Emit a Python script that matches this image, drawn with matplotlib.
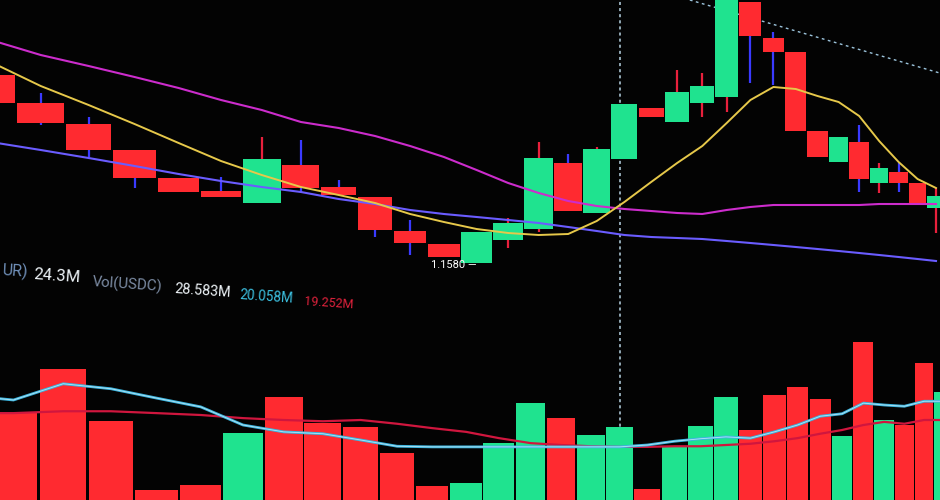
import numpy as np
import matplotlib
matplotlib.use("Agg")
import matplotlib.pyplot as plt

plt.rcParams["font.family"] = ["Roboto", "DejaVu Sans"]

# price candles (index 0..31, left to right)
opens = [1.1768, 1.1740, 1.1719, 1.1693, 1.1665, 1.1652, 1.1640, 1.1678,
         1.1656, 1.1646, 1.1612, 1.1599, 1.1580, 1.1603, 1.1614, 1.1680,
         1.1630, 1.1684, 1.1735, 1.1721, 1.1740, 1.1746, 1.1841, 1.1805,
         1.1791, 1.1712, 1.1681, 1.1701, 1.1660, 1.1671, 1.1660, 1.1635]
closes = [1.1740, 1.1720, 1.1693, 1.1665, 1.1651, 1.1646, 1.1684, 1.1655,
          1.1648, 1.1613, 1.1600, 1.1586, 1.1611, 1.1620, 1.1685, 1.1632,
          1.1694, 1.1739, 1.1726, 1.1751, 1.1757, 1.1863, 1.1807, 1.1791,
          1.1712, 1.1686, 1.1706, 1.1664, 1.1675, 1.1660, 1.1639, 1.1647]
highs = [1.1771, 1.1750, 1.1726, 1.1693, 1.1665, 1.1666, 1.1706, 1.1703,
         1.1663, 1.1646, 1.1623, 1.1599, 1.1611, 1.1625, 1.1701, 1.1689,
         1.1696, 1.1739, 1.1735, 1.1773, 1.1770, 1.1863, 1.1841, 1.1811,
         1.1791, 1.1712, 1.1706, 1.1718, 1.1680, 1.1680, 1.1660, 1.1655]
lows = [1.1737, 1.1718, 1.1686, 1.1655, 1.1651, 1.1646, 1.1640, 1.1650,
        1.1648, 1.1606, 1.1588, 1.1586, 1.1580, 1.1595, 1.1611, 1.1632,
        1.1630, 1.1684, 1.1726, 1.1721, 1.1726, 1.1731, 1.1760, 1.1758,
        1.1712, 1.1686, 1.1681, 1.1651, 1.1650, 1.1651, 1.1639, 1.1610]

ma_fast = [1.1781, 1.1757, 1.1738, 1.1719, 1.1700, 1.1682, 1.1668, 1.1656,
           1.1648, 1.1640, 1.1629, 1.1621, 1.1614, 1.1610, 1.1608, 1.1609,
           1.1622, 1.1641, 1.1661, 1.1680, 1.1697, 1.1720, 1.1743, 1.1756,
           1.1754, 1.1747, 1.1741, 1.1727, 1.1702, 1.1681, 1.1664, 1.1655]
ma_mid = [1.1803, 1.1788, 1.1777, 1.1766, 1.1755, 1.1743, 1.1733, 1.1721,
          1.1715, 1.1707, 1.1697, 1.1686, 1.1673, 1.1660, 1.1650, 1.1642,
          1.1637, 1.1634, 1.1632, 1.1630, 1.1629, 1.1633, 1.1636, 1.1638,
          1.1638, 1.1638, 1.1638, 1.1638, 1.1639, 1.1639, 1.1639, 1.1639]
ma_slow = [1.1701, 1.1693, 1.1685, 1.1677, 1.1669, 1.1662, 1.1656, 1.1651,
           1.1644, 1.1639, 1.1633, 1.1629, 1.1626, 1.1623, 1.1620, 1.1616,
           1.1612, 1.1608, 1.1606, 1.1605, 1.1604, 1.1602, 1.1600, 1.1598,
           1.1596, 1.1594, 1.1592, 1.1590, 1.1588, 1.1586, 1.1584, 1.1582]

# volume (M) and its two moving averages
volumes = [16.0, 17.1, 24.2, 15.8, 4.8, 5.6, 13.9, 19.7, 15.5, 14.9, 10.7,
           5.4, 5.9, 12.3, 18.7, 16.3, 13.6, 14.9, 5.0, 11.8, 15.0, 19.7,
           14.4, 20.0, 21.3, 19.4, 13.4, 28.5, 16.0, 15.2, 25.1, 20.5]
vol_ma_fast = [20.0, 19.2, 21.8, 21.0, 19.5, 18.1, 15.2, 14.1, 13.8, 12.8,
               11.8, 11.7, 11.7, 11.7, 11.7, 11.7, 11.7, 11.7, 12.0, 12.6,
               13.0, 13.3, 13.1, 14.1, 15.2, 16.6, 17.0, 18.7, 18.4, 18.2,
               19.0, 19.0]
vol_ma_slow = [17.1, 17.1, 17.4, 17.4, 17.1, 16.8, 16.3, 16.0, 15.8, 16.0,
               15.4, 14.7, 14.1, 13.1, 12.3, 12.0, 11.8, 11.7, 11.7, 11.8,
               11.8, 12.0, 12.2, 12.6, 13.1, 13.8, 14.4, 15.2, 15.7, 15.4,
               16.0, 16.0]

cursor_index = 17.5
price_line_x = [20.0, 31.7]
price_line_y = [1.1843, 1.1770]
low_label = "1.1580 \u2014"

legend_labels = ["UR)", "24.3M", "Vol(USDC)", "28.583M", "20.058M", "19.252M"]

RED = "#ff2a30"
GREEN = "#1fe38f"
BG = "#030303"

# the screen is photographed at an angle: candles shrink to the right
PERSP = 0.022


def fwd(u):
    u = np.asarray(u, dtype=float)
    with np.errstate(divide="ignore", invalid="ignore"):
        return u / (1 + PERSP * u)


def inv(v):
    v = np.asarray(v, dtype=float)
    with np.errstate(divide="ignore", invalid="ignore"):
        return v / (1 - PERSP * v)


fig = plt.figure(figsize=(9.4, 5.0), dpi=100, facecolor=BG)

# volume panel (drawn first, so the price panel sits on top)
axv = fig.add_axes([0, 0, 1, 1])
axv.set_facecolor(BG)
axv.set_xscale("function", functions=(fwd, inv))
x = np.arange(len(volumes)) + 0.5
up = np.array(closes) >= np.array(opens)
vol_colors = [GREEN if u else RED for u in up]
axv.axvline(cursor_index, color="#b8d4e4", lw=1.1, ls=(0, (2, 2)), zorder=1)
axv.bar(x, volumes, width=0.95, color=vol_colors, zorder=2)
axv.plot(x, vol_ma_slow, color="#d0163e", lw=1.6, zorder=3)
axv.plot(x, vol_ma_fast, color="#3cb6e0", lw=2.0, zorder=4)
axv.plot(x, vol_ma_fast, color="#b8e4f4", lw=0.6, zorder=5)
axv.set_xlim(1.236, 31.33)
axv.set_ylim(3.2, 83.2)
axv.axis("off")

# price panel
ax = fig.add_axes([0, 0, 1, 1])
ax.patch.set_alpha(0)
ax.set_xscale("function", functions=(fwd, inv))
body_lo = np.minimum(opens, closes)
body_h = np.abs(np.array(closes) - np.array(opens))
wick_colors = ["#e8203c" if u else "#3a3aff" for u in up]
ax.vlines(x, lows, highs, colors=wick_colors, lw=1.6, zorder=2)
ax.bar(x, body_h, bottom=body_lo, width=0.95, color=vol_colors, zorder=3)
ax.plot(x, ma_slow, color="#6a5cff", lw=1.5, zorder=4)
ax.plot(x, ma_mid, color="#cc2ccc", lw=1.5, zorder=4)
ax.plot(x, ma_fast, color="#e6c84a", lw=1.4, zorder=5)
ax.plot(price_line_x, price_line_y, color="#9cc4dc", lw=1.0,
        ls=(0, (2, 2.5)), zorder=1)
ax.text(12.5, 1.1578, low_label, color="white", fontsize=8,
        ha="right", va="center", zorder=6)
ax.set_xlim(0.682, 31.72)
ax.set_ylim(1.1343, 1.1843)
ax.axis("off")

# indicator read-out row, slightly tilted like the photo
row = [
    (legend_labels[0], 0.002, 0.449, "#6f8fb8", 11.5),
    (legend_labels[1], 0.035, 0.442, "#eef4f8", 12),
    (legend_labels[2], 0.098, 0.426, "#7c8ca4", 10.8),
    (legend_labels[3], 0.185, 0.414, "#eef4f8", 10.4),
    (legend_labels[4], 0.255, 0.402, "#3cc0e0", 9.8),
    (legend_labels[5], 0.323, 0.390, "#e0223c", 9.0),
]
for label, fx, fy, col, size in row:
    fig.text(fx, fy, label, color=col, fontsize=size, ha="left", va="baseline",
             rotation=-4, rotation_mode="anchor")

fig.savefig("out.png", dpi=100, facecolor=BG)
plt.close(fig)
